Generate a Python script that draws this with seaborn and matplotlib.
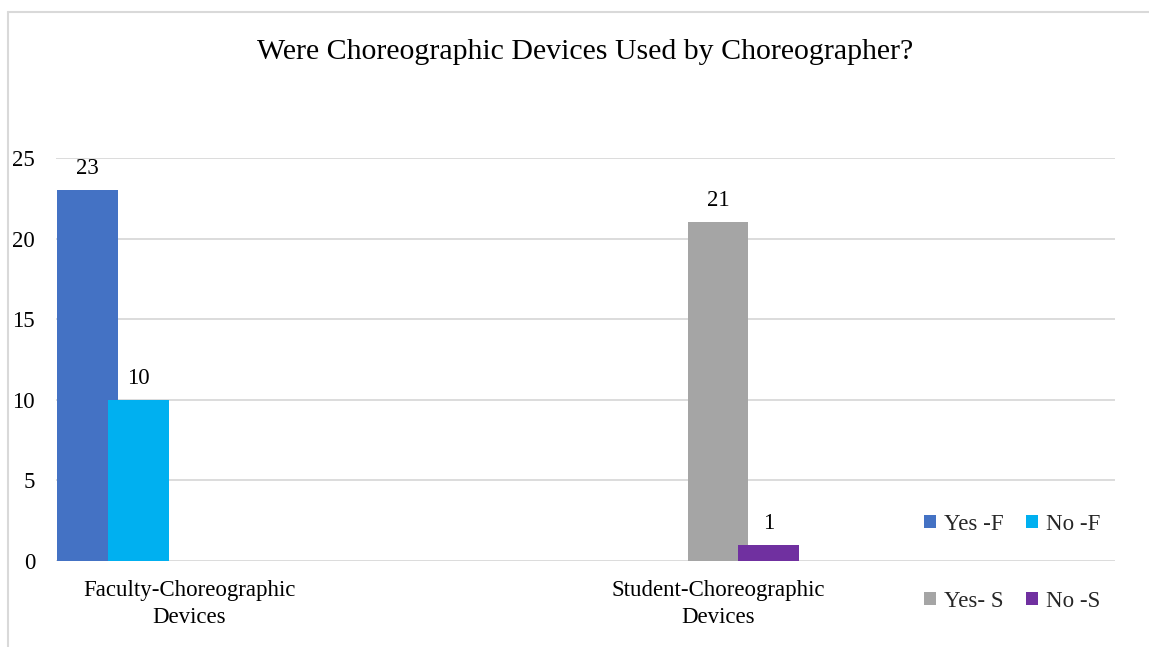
import matplotlib
matplotlib.use("Agg")
import matplotlib.pyplot as plt
from matplotlib.lines import Line2D
from matplotlib.patches import Patch
import seaborn as sns
import pandas as pd

# ---- data ----
categories = ["Faculty-Choreographic\nDevices", "Student-Choreographic\nDevices"]
series = ["Yes -F", "No -F", "Yes- S", "No -S"]
series_category = [0, 0, 1, 1]          # which category each series belongs to
values = [23, 10, 21, 1]
colors = ["#4472C4", "#00B0F0", "#A5A5A5", "#7030A0"]
yticks = [0, 5, 10, 15, 20, 25]
title = "Were Choreographic Devices Used by Choreographer?"

# slot offsets within a category (Excel-like layout)
slot_offset = {"Yes -F": -0.1928, "No -F": -0.0964, "Yes- S": 0.0, "No -S": 0.0964}

df = pd.DataFrame({
    "series": series,
    "value": values,
    "pos": [series_category[i] + slot_offset[s] for i, s in enumerate(series)],
})

sns.set_theme(style="white")
plt.rcParams["font.family"] = ["Liberation Serif", "DejaVu Serif"]

W, H = 1149, 647
FS = 16.5
fig = plt.figure(figsize=(W / 100, H / 100), dpi=100)
ax = fig.add_axes([56 / W, 1 - 561 / H, (1115 - 56) / W, (561 - 158) / H])

sns.barplot(data=df, x="pos", y="value", hue="series", hue_order=series,
            palette=colors, native_scale=True, dodge=False, width=61 / 51,
            errorbar=None, legend=False, ax=ax, saturation=1, linewidth=0)

for c in ax.containers:
    ax.bar_label(c, padding=8, fontsize=FS, color="#000000")

ax.set_xlim((56 - 189) / 529, (1115 - 189) / 529)
ax.set_ylim(0, 25)
ax.set_yticks(yticks)
ax.set_yticklabels([str(t) for t in yticks], fontsize=FS)
ax.set_xticks([0, 1])
ax.set_xticklabels(categories, fontsize=FS, linespacing=1.34)
ax.tick_params(axis="y", length=0, pad=15)
ax.tick_params(axis="x", length=0, pad=14)
ax.set_xlabel("")
ax.set_ylabel("")
for sp in ax.spines.values():
    sp.set_visible(False)
ax.yaxis.grid(True, color="#D9D9D9", linewidth=1.3)
ax.set_axisbelow(True)
for lab in ax.get_yticklabels():
    lab.set_color("#000000")
for lab in ax.get_xticklabels():
    lab.set_color("#000000")

fig.text(585 / W, 1 - 52 / H, title, ha="center", va="center", fontsize=21.5, color="#000000")

# chart border
fig.add_artist(Line2D([8 / W, 8 / W], [1 - 11.5 / H, 0], color="#D9D9D9", linewidth=1.5))
fig.add_artist(Line2D([8 / W, 1], [1 - 11.5 / H, 1 - 11.5 / H], color="#D9D9D9", linewidth=1.5))

# legend: row1 Yes-F, No-F ; row2 Yes-S, No-S
handles = {s: Patch(facecolor=c, edgecolor="none") for s, c in zip(series, colors)}
order = ["Yes -F", "Yes- S", "No -F", "No -S"]
fig.legend([handles[s] for s in order], order, ncol=2, loc="center",
           bbox_to_anchor=(1012 / W, 1 - 563 / H), frameon=False, fontsize=FS,
           handlelength=0.5, handleheight=0.5, handletextpad=0.35,
           columnspacing=1.0, labelspacing=2.45)

fig.savefig("out.png", dpi=100)
